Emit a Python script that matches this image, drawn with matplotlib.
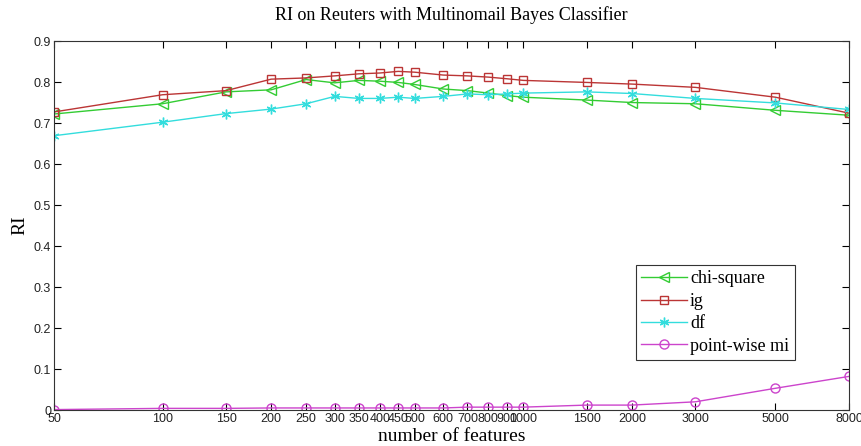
"""
RI on Reuters, Multinomial Bayes, per feature-selection method
"""
import matplotlib
matplotlib.use('Agg')
import matplotlib.pyplot as plt
from matplotlib.ticker import FixedLocator, NullLocator, FixedFormatter

features = [50, 100, 150, 200, 250, 300, 350, 400, 450, 500,
            600, 700, 800, 900, 1000, 1500, 2000, 3000, 5000, 8000]

chi_square = [0.722, 0.747, 0.776, 0.781, 0.806, 0.798, 0.804, 0.802, 0.799, 0.794,
              0.783, 0.779, 0.773, 0.767, 0.763, 0.756, 0.750, 0.747, 0.731, 0.719]
ig = [0.727, 0.769, 0.779, 0.807, 0.810, 0.815, 0.820, 0.822, 0.826, 0.824,
      0.817, 0.815, 0.812, 0.808, 0.804, 0.799, 0.795, 0.787, 0.763, 0.724]
df = [0.669, 0.702, 0.723, 0.734, 0.747, 0.765, 0.760, 0.760, 0.763, 0.760,
      0.765, 0.771, 0.769, 0.771, 0.773, 0.776, 0.772, 0.760, 0.749, 0.733]
pw_mi = [0.001, 0.004, 0.004, 0.005, 0.005, 0.005, 0.005, 0.005, 0.005, 0.005,
         0.005, 0.007, 0.007, 0.007, 0.007, 0.012, 0.012, 0.020, 0.053, 0.082]

y_ticks = [0, 0.1, 0.2, 0.3, 0.4, 0.5, 0.6, 0.7, 0.8, 0.9]
y_labels = ['0', '0.1', '0.2', '0.3', '0.4', '0.5', '0.6', '0.7', '0.8', '0.9']

serif = ['Liberation Serif', 'DejaVu Serif']
sans = ['Liberation Sans', 'DejaVu Sans']

fig = plt.figure(figsize=(8.62, 4.46), dpi=100)
ax = fig.add_axes([0.0626, 0.0807, 0.9224, 0.8273])

ax.plot(features, chi_square, '-', color='#33cc33', marker='<', mfc='none',
        ms=7, lw=1, label='chi-square')
ax.plot(features, ig, '-', color='#bb3535', marker='s', mfc='none',
        ms=6, lw=1, label='ig')
ax.plot(features, df, '-', color='#33dddd', marker=(6, 2, 0),
        ms=7, lw=1, mew=1, label='df')
ax.plot(features, pw_mi, '-', color='#cc44cc', marker='o', mfc='none',
        ms=6.5, lw=1, label='point-wise mi')

ax.set_xscale('log')
ax.set_xlim(50, 8000)
ax.set_ylim(0, 0.9)
ax.xaxis.set_major_locator(FixedLocator(features))
ax.xaxis.set_major_formatter(FixedFormatter([str(f) for f in features]))
ax.xaxis.set_minor_locator(NullLocator())
ax.set_yticks(y_ticks)
ax.set_yticklabels(y_labels)

ax.tick_params(direction='in', top=True, right=True, length=5, width=0.8,
               labelsize=9, pad=2)
for lab in ax.get_xticklabels() + ax.get_yticklabels():
    lab.set_family(sans)
    lab.set_color('#222222')
for sp in ax.spines.values():
    sp.set_linewidth(0.8)
    sp.set_color('#333333')

ax.set_title('RI on Reuters with Multinomail Bayes Classifier',
             family=serif, fontsize=13, pad=15)
ax.set_xlabel('number of features', family=serif, fontsize=14, labelpad=2)
ax.set_ylabel('RI', family=serif, fontsize=14, labelpad=4)

leg = ax.legend(loc='upper left', bbox_to_anchor=(0.732, 0.393),
                prop={'family': serif, 'size': 13}, fancybox=False,
                edgecolor='#333333', framealpha=1, handlelength=2.5,
                borderpad=0.3, labelspacing=0.3, handletextpad=0.2,
                borderaxespad=0)
leg.get_frame().set_linewidth(0.8)

fig.savefig('out.png', dpi=100)
